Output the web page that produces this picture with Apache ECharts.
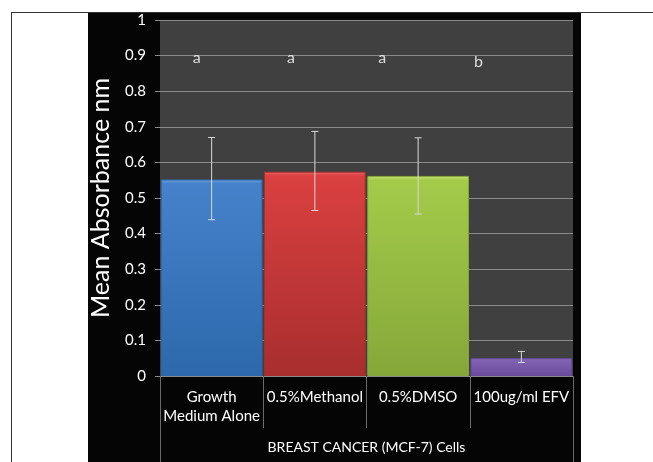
<!DOCTYPE html>
<html>
<head>
<meta charset="utf-8">
<script src="https://cdn.jsdelivr.net/npm/echarts@6/dist/echarts.min.js"></script>
<style>
html,body{margin:0;padding:0;background:#fff;}
#c{width:653px;height:462px;}
</style>
</head>
<body>
<div id="c"></div>
<script>
// ---- data ----
var categories = ['Growth\nMedium Alone', '0.5%Methanol', '0.5%DMSO', '100ug/ml EFV'];
var means = [0.552, 0.574, 0.562, 0.050];
var errLow = [0.439, 0.465, 0.455, 0.038];
var errHigh = [0.670, 0.687, 0.669, 0.069];
var letters = ['a', 'a', 'a', 'b'];
var letterX = [0.356, 1.268, 2.153, 3.084];
var letterY = [0.893, 0.893, 0.893, 0.883];
var groupLabel = ['BREAST CANCER (MCF-7) Cells'];
var yAxisTitle = 'Mean Absorbance nm';
var yMin = 0, yMax = 1, yStep = 0.1;

// ---- styles ----
var barColors = [
  ['#6ea4e0', '#4682cb', '#2c68ab'],
  ['#ee6a6a', '#da4040', '#a82e2e'],
  ['#c6e27a', '#a4cb4a', '#85a739'],
  ['#a58ad2', '#8464b6', '#6a4a9a']
];
var font = 'Lato, "Open Sans", sans-serif';

var chart = echarts.init(document.getElementById('c'));

var barData = means.map(function (v, i) {
  var c = barColors[i];
  return {
    value: v,
    itemStyle: {
      color: new echarts.graphic.LinearGradient(0, 0, 0, 1, [
        {offset: 0, color: c[0]},
        {offset: 0.02, color: c[1]},
        {offset: 1, color: c[2]}
      ]),
      borderColor: c[2],
      borderWidth: 1
    }
  };
});

var errData = means.map(function (v, i) { return [i, errLow[i], errHigh[i]]; });
var letterData = letters.map(function (l, i) { return [letterX[i], letterY[i], l]; });

chart.setOption({
  backgroundColor: '#ffffff',
  animation: false,
  textStyle: {fontFamily: font},
  graphic: [
    {type: 'rect', z: -10, shape: {x: 88, y: 12, width: 493, height: 450}, style: {fill: '#050505'}},
    {type: 'line', z: -9, shape: {x1: 11, y1: 12.5, x2: 653, y2: 12.5}, style: {stroke: '#333', lineWidth: 1}},
    {type: 'line', z: -9, shape: {x1: 11.5, y1: 12, x2: 11.5, y2: 462}, style: {stroke: '#333', lineWidth: 1}}
  ],
  grid: {
    left: 160, right: 80, top: 20, bottom: 86,
    show: true, backgroundColor: '#404040', borderWidth: 0, z: 0
  },
  xAxis: [
    {
      type: 'category', data: categories, position: 'bottom',
      axisLine: {show: true, lineStyle: {color: '#8a8a8a', width: 1}},
      axisTick: {show: true, interval: 0, length: 52, lineStyle: {color: '#6a6a6a'}},
      axisLabel: {color: '#ffffff', fontSize: 15, margin: 12, lineHeight: 19, interval: 0, fontFamily: font},
      splitLine: {show: false}
    },
    {
      type: 'category', data: groupLabel, position: 'bottom',
      axisLine: {show: false},
      axisTick: {show: true, length: 86, lineStyle: {color: '#6a6a6a'}},
      axisLabel: {color: '#ffffff', fontSize: 14, margin: 64, fontFamily: font},
      splitLine: {show: false}
    },
    {
      type: 'value', min: 0, max: 4, show: false
    }
  ],
  yAxis: {
    type: 'value', min: yMin, max: yMax, interval: yStep,
    name: yAxisTitle, nameLocation: 'middle', nameGap: 47,
    nameTextStyle: {color: '#ffffff', fontSize: 25, fontFamily: font},
    axisLine: {show: false},
    axisTick: {show: true, length: 5, lineStyle: {color: '#8a8a8a'}},
    axisLabel: {color: '#ffffff', fontSize: 15, margin: 14, fontFamily: font},
    splitLine: {show: true, lineStyle: {color: '#8a8a8a', width: 1}}
  },
  series: [
    {
      type: 'bar', xAxisIndex: 0, data: barData,
      barCategoryGap: '1.5%', z: 2
    },
    {
      type: 'custom', xAxisIndex: 0, data: errData, z: 5,
      renderItem: function (params, api) {
        var x = api.value(0);
        var lo = api.coord([x, api.value(1)]);
        var hi = api.coord([x, api.value(2)]);
        var w = 3.5;
        var st = {stroke: '#d8d8d8', lineWidth: 1};
        return {
          type: 'group',
          children: [
            {type: 'line', shape: {x1: lo[0], y1: lo[1], x2: hi[0], y2: hi[1]}, style: st},
            {type: 'line', shape: {x1: lo[0] - w, y1: lo[1], x2: lo[0] + w, y2: lo[1]}, style: st},
            {type: 'line', shape: {x1: hi[0] - w, y1: hi[1], x2: hi[0] + w, y2: hi[1]}, style: st}
          ]
        };
      }
    },
    {
      type: 'scatter', xAxisIndex: 2, data: letterData, z: 6,
      symbolSize: 1, itemStyle: {color: 'rgba(0,0,0,0)'},
      label: {
        show: true, position: 'inside', color: '#ffffff', fontSize: 16, fontFamily: font,
        formatter: function (p) { return p.data[2]; }
      }
    }
  ]
});
</script>
</body>
</html>
